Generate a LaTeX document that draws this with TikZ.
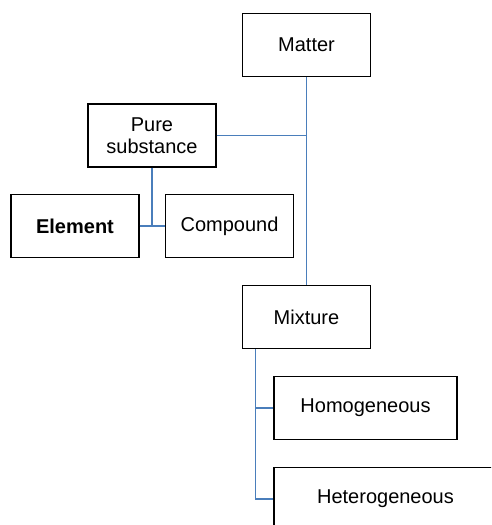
\documentclass[tikz,border=0pt]{standalone}
\usepackage{fontspec}
\setmainfont{Liberation Sans}
\usetikzlibrary{positioning}
\definecolor{linkblue}{RGB}{74,126,187}

\begin{document}
\begin{tikzpicture}[x=1pt, y=-1pt, every node/.style={font=\fontsize{20}{22}\selectfont},
	box/.style={draw, line width=1.2pt, minimum width=128pt, minimum height=63pt, inner sep=2pt, align=center},
	link/.style={linkblue, line width=1.1pt}]
	\useasboundingbox (0,0) rectangle (491,525);
	\clip (0,0) rectangle (491,525);
	% classes of matter
	\node[box] (matter) at (306.5,45) {Matter};
	\node[box] (pure) at (152,135.5) {Pure\\substance};
	\node[box] (element) at (75,226) {\textbf{Element}};
	\node[box] (compound) at (229.5,226) {Compound};
	\node[box] (mixture) at (306.5,317) {Mixture};
	\node[box, minimum width=183pt] (homog) at (365.5,408) {Homogeneous};
	\node[box, minimum width=223pt] (heterog) at (385.5,499) {Heterogeneous};
	% links
	\draw[link] (matter.south) -- (mixture.north);
	\draw[link] (pure.east) -- (pure.east -| matter.south);
	\draw[link] (pure.south) -- (pure.south |- element.east);
	\draw[link] (element.east) -- (compound.west);
	\coordinate (mixleft) at ([xshift=13.5pt]mixture.south west);
	\draw[link] (mixleft) |- (homog.west);
	\draw[link] (mixleft) |- (heterog.west);
\end{tikzpicture}
\end{document}
